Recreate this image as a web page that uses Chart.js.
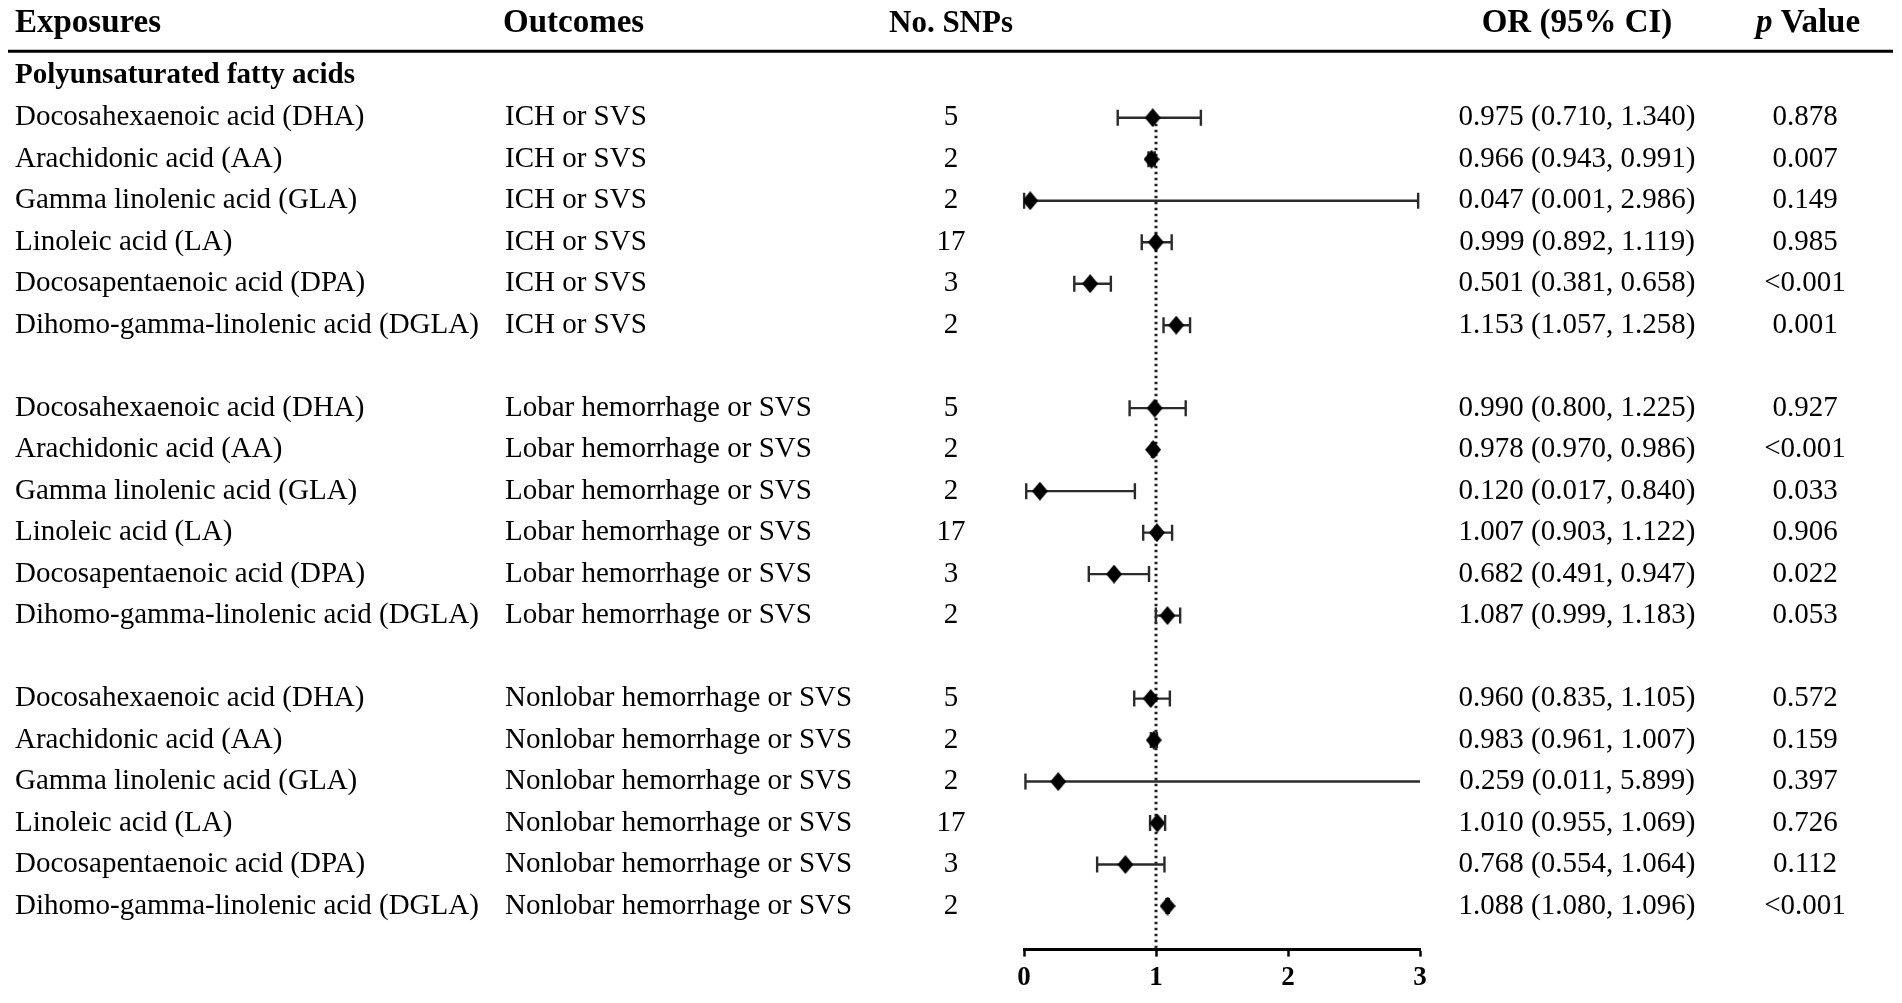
<!DOCTYPE html>
<html>
<head>
<meta charset="utf-8">
<script src="https://cdn.jsdelivr.net/npm/chart.js@4/dist/chart.umd.min.js"></script>
<style>
  html, body { margin: 0; padding: 0; background: #fff; }
</style>
</head>
<body>
<canvas id="forestChart" width="1902" height="1003"></canvas>
<script>
// 数据
const exposures = ['Docosahexaenoic acid (DHA)', 'Arachidonic acid (AA)', 'Gamma linolenic acid (GLA)', 'Linoleic acid (LA)', 'Docosapentaenoic acid (DPA)', 'Dihomo-gamma-linolenic acid (DGLA)'];
const outcomes = ['ICH or SVS', 'Lobar hemorrhage or SVS', 'Nonlobar hemorrhage or SVS'];
const snpCounts = [5, 2, 2, 17, 3, 2];
const orValues = [0.975, 0.966, 0.047, 0.999, 0.501, 1.153, 0.990, 0.978, 0.120, 1.007, 0.682, 1.087, 0.960, 0.983, 0.259, 1.010, 0.768, 1.088];
const ciLower = [0.710, 0.943, 0.001, 0.892, 0.381, 1.057, 0.800, 0.970, 0.017, 0.903, 0.491, 0.999, 0.835, 0.961, 0.011, 0.955, 0.554, 1.080];
const ciUpper = [1.340, 0.991, 2.986, 1.119, 0.658, 1.258, 1.225, 0.986, 0.840, 1.122, 0.947, 1.183, 1.105, 1.007, 5.899, 1.069, 1.064, 1.096];
const pValues = ['0.878', '0.007', '0.149', '0.985', '<0.001', '0.001', '0.927', '<0.001', '0.033', '0.906', '0.022', '0.053', '0.572', '0.159', '0.397', '0.726', '0.112', '<0.001'];
const xTicks = [0, 1, 2, 3];
const groupTitle = 'Polyunsaturated fatty acids';

const FONT = '"Liberation Serif", "Times New Roman", serif';

// 行号: 每组 6 行, 组间空一行
function rowOf(i) {
    return Math.floor(i / exposures.length) * (exposures.length + 1) + (i % exposures.length);
}

// 菱形点
function diamond(w, h) {
    const c = document.createElement('canvas');
    c.width = w; c.height = h;
    const g = c.getContext('2d');
    g.fillStyle = '#000';
    g.beginPath();
    g.moveTo(w / 2, 0);
    g.lineTo(w, h / 2);
    g.lineTo(w / 2, h);
    g.lineTo(0, h / 2);
    g.closePath();
    g.fill();
    return c;
}

const tablePlugin = {
    id: 'forestTable',
    beforeDatasetsDraw(chart) {
        const ctx = chart.ctx;
        const xs = chart.scales.x, ys = chart.scales.y;
        ctx.save();
        // 参考线 OR = 1
        ctx.strokeStyle = '#222';
        ctx.lineWidth = 3;
        ctx.setLineDash([2.5, 3.5]);
        ctx.beginPath();
        ctx.moveTo(xs.getPixelForValue(1), ys.getPixelForValue(0));
        ctx.lineTo(xs.getPixelForValue(1), chart.chartArea.bottom);
        ctx.stroke();
        ctx.setLineDash([]);
        // 置信区间
        ctx.strokeStyle = '#2b2b2b';
        ctx.lineWidth = 2.4;
        orValues.forEach((v, i) => {
            const y = ys.getPixelForValue(rowOf(i));
            const lo = Math.max(ciLower[i], xs.min);
            const hi = Math.min(ciUpper[i], xs.max);
            const x1 = xs.getPixelForValue(lo), x2 = xs.getPixelForValue(hi);
            ctx.beginPath();
            ctx.moveTo(x1, y); ctx.lineTo(x2, y);
            if (ciLower[i] >= xs.min) { ctx.moveTo(x1, y - 8); ctx.lineTo(x1, y + 8); }
            if (ciUpper[i] <= xs.max) { ctx.moveTo(x2, y - 8); ctx.lineTo(x2, y + 8); }
            ctx.stroke();
        });
        ctx.restore();
    },
    afterDraw(chart) {
        const ctx = chart.ctx;
        const ys = chart.scales.y;
        ctx.save();
        ctx.fillStyle = '#000';
        ctx.textBaseline = 'middle';

        // 表头
        const hy = ys.getPixelForValue(-2.26);
        ctx.font = 'bold 33px ' + FONT;
        ctx.textAlign = 'left';
        ctx.fillText('Exposures', 15, hy);
        ctx.fillText('Outcomes', 503, hy);
        ctx.textAlign = 'center';
        ctx.font = 'bold 31px ' + FONT;
        ctx.fillText('No. SNPs', 951, hy);
        ctx.font = 'bold 33px ' + FONT;
        ctx.fillText('OR (95% CI)', 1577, hy);
        ctx.textAlign = 'left';
        ctx.font = 'italic bold 33px ' + FONT;
        const wp = ctx.measureText('p ').width;
        ctx.font = 'bold 33px ' + FONT;
        const wv = ctx.measureText('Value').width;
        const px0 = 1808 - (wp + wv) / 2;
        ctx.font = 'italic bold 33px ' + FONT;
        ctx.fillText('p ', px0, hy);
        ctx.font = 'bold 33px ' + FONT;
        ctx.fillText('Value', px0 + wp, hy);

        // 表头下横线
        const ry = ys.getPixelForValue(-1.6);
        ctx.strokeStyle = '#000';
        ctx.lineWidth = 3;
        ctx.beginPath();
        ctx.moveTo(8, ry); ctx.lineTo(1893, ry);
        ctx.stroke();

        ctx.font = 'bold 29px ' + FONT;
        ctx.fillText(groupTitle, 15, ys.getPixelForValue(-1.02));

        // 各行
        ctx.font = '29px ' + FONT;
        orValues.forEach((v, i) => {
            const y = ys.getPixelForValue(rowOf(i));
            const j = i % exposures.length;
            const g = Math.floor(i / exposures.length);
            ctx.textAlign = 'left';
            ctx.fillText(exposures[j], 15, y);
            ctx.fillText(outcomes[g], 505, y);
            ctx.textAlign = 'center';
            ctx.fillText(String(snpCounts[j]), 951, y);
            ctx.fillText(v.toFixed(3) + ' (' + ciLower[i].toFixed(3) + ', ' + ciUpper[i].toFixed(3) + ')', 1577, y);
            ctx.fillText(pValues[i], 1805, y);
        });
        ctx.restore();
    }
};

document.addEventListener('DOMContentLoaded', function() {
    const forestChart = new Chart(
        document.getElementById('forestChart'),
        {
            type: 'scatter',
            data: {
                datasets: [
                    {
                        label: 'OR',
                        data: orValues.map((v, i) => ({ x: v, y: rowOf(i) })),
                        pointStyle: diamond(16, 19),
                        pointRadius: 9,
                        backgroundColor: '#000',
                        borderColor: '#000'
                    }
                ]
            },
            plugins: [tablePlugin],
            options: {
                responsive: false,
                animation: false,
                layout: {
                    padding: { left: 1024, right: 482, top: 14, bottom: 4 }
                },
                scales: {
                    x: {
                        type: 'linear',
                        min: 0,
                        max: 3,
                        afterBuildTicks: (axis) => { axis.ticks = xTicks.map(v => ({ value: v })); },
                        border: { display: true, color: '#000', width: 3 },
                        grid: {
                            display: true,
                            drawOnChartArea: false,
                            drawTicks: true,
                            tickLength: 7,
                            tickWidth: 2.5,
                            tickColor: '#000'
                        },
                        ticks: {
                            color: '#000',
                            padding: 5,
                            font: { family: FONT, size: 27, weight: 'bold' }
                        }
                    },
                    y: {
                        type: 'linear',
                        display: false,
                        reverse: true,
                        min: -2.5,
                        max: 20.05
                    }
                },
                plugins: {
                    legend: { display: false },
                    tooltip: { enabled: false },
                    title: { display: false }
                }
            }
        }
    );
});
</script>
</body>
</html>
